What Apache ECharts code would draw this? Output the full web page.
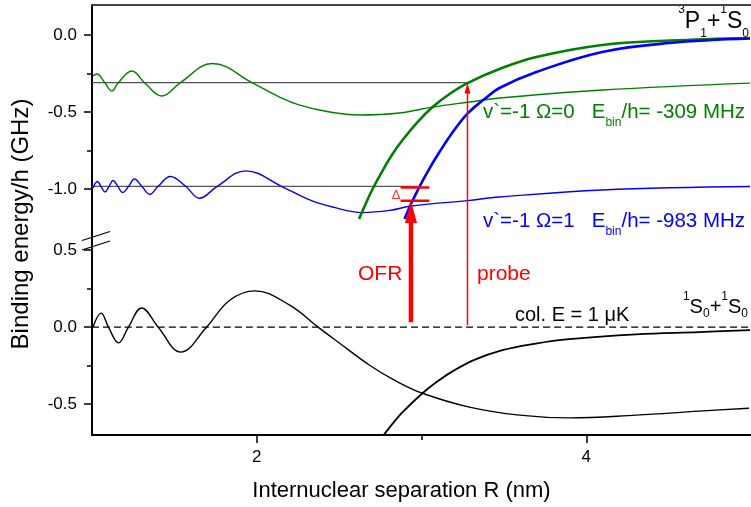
<!DOCTYPE html>
<html>
<head>
<meta charset="utf-8">
<script src="https://cdn.jsdelivr.net/npm/echarts@6/dist/echarts.min.js"></script>
<style>
html, body { margin: 0; padding: 0; background: #fff; }
#chart { width: 751px; height: 507px; }
</style>
</head>
<body>
<div id="chart"></div>
<script>
// axis ranges and ticks (broken y axis: upper = excited state, lower = ground state)
var xRange = [1, 5];
var upperRange = [-1.344, 0.195];
var lowerRange = [-0.70, 0.553];
var xMajorTicks = [2, 4];
var xMinorTicks = [3];
var upperMajorTicks = [-1.0, -0.5, 0.0];
var upperMinorTicks = [-0.75, -0.25];
var lowerMajorTicks = [-0.5, 0.0, 0.5];
var lowerMinorTicks = [-0.25, 0.25];

// upper panel: 3P1+1S0 bound states
var greenWave = [[1.006,-0.266],[1.030,-0.253],[1.079,-0.312],[1.121,-0.364],[1.158,-0.312],[1.242,-0.234],
	[1.321,-0.312],[1.424,-0.396],[1.533,-0.312],[1.730,-0.185],[1.976,-0.312],[2.139,-0.403],[2.261,-0.455],
	[2.442,-0.500],[2.624,-0.519],[2.867,-0.506],[3.067,-0.468],[3.291,-0.435],[3.473,-0.409],[4.097,-0.357],[4.994,-0.312]];
var blueWave = [[1.006,-0.994],[1.033,-0.951],[1.055,-0.984],[1.079,-1.019],[1.103,-0.984],[1.127,-0.945],
	[1.158,-0.984],[1.185,-1.023],[1.221,-0.984],[1.258,-0.935],[1.303,-0.984],[1.352,-1.034],[1.400,-0.984],
	[1.476,-0.919],[1.570,-0.984],[1.652,-1.060],[1.758,-0.984],[1.933,-0.882],[2.158,-0.987],[2.321,-1.071],
	[2.461,-1.117],[2.642,-1.153],[2.806,-1.139],[2.939,-1.110],[3.279,-1.075],[3.473,-1.052],[4.097,-1.006],[4.994,-0.984]];
var greenPot = [[2.621,-1.195],[2.655,-1.110],[2.703,-1.000],[2.764,-0.880],[2.824,-0.773],[2.885,-0.682],
	[2.976,-0.565],[3.067,-0.468],[3.170,-0.383],[3.279,-0.312],[3.473,-0.221],[3.697,-0.143],[4.097,-0.065],[4.503,-0.036],[4.994,-0.019]];
var bluePot = [[2.897,-1.195],[2.939,-1.091],[2.988,-0.984],[3.048,-0.867],[3.109,-0.760],[3.188,-0.633],
	[3.279,-0.510],[3.382,-0.416],[3.473,-0.344],[3.697,-0.240],[4.097,-0.110],[4.503,-0.052],[4.994,-0.023]];
var levelOmega0 = [[1, -0.309], [3.279, -0.309]];
var levelOmega1 = [[1, -0.983], [2.976, -0.983]];
var deltaTop = [[2.873, -0.990], [3.048, -0.990]];
var deltaBottom = [[2.873, -1.076], [3.048, -1.076]];

// lower panel: 1S0+1S0 scattering state
var groundWave = [[1.006,0],[1.055,0.091],[1.100,0],[1.161,-0.102],[1.221,0],[1.301,0.125],[1.402,0],
	[1.538,-0.162],[1.695,0],[1.836,0.175],[1.988,0.236],[2.200,0.143],[2.372,0],[2.503,-0.104],[2.685,-0.247],
	[2.836,-0.344],[3.006,-0.429],[3.291,-0.519],[3.594,-0.571],[3.897,-0.589],[4.303,-0.571],[4.685,-0.545],[4.988,-0.526]];
var groundPot = [[2.770,-0.701],[2.836,-0.612],[2.885,-0.552],[3.006,-0.429],[3.109,-0.343],[3.188,-0.287],
	[3.321,-0.212],[3.491,-0.149],[3.685,-0.108],[3.897,-0.078],[4.303,-0.047],[4.685,-0.032],[4.994,-0.019]];
var collisionLine = [[1, 0], [5, 0]];

// arrows: [x, start (lower panel), tip (upper panel)]
var ofrArrow = [2.936, 0.032, -1.078];
var probeArrow = [3.279, 0.013, -0.309];

var GREEN = '#008000', BLUE = '#0000ff', RED = '#ff0000';
var FONT = 'Liberation Sans, Arial, sans-serif';

function lineSeries(data, upper, color, width, type){
	return {
		type: 'line', data: data, xAxisIndex: upper ? 0 : 1, yAxisIndex: upper ? 0 : 2,
		showSymbol: false, smooth: 0.4, silent: true,
		lineStyle: {color: color, width: width, type: type || 'solid'}
	};
}
// upper part of an arrow, from grid bottom to the tip, with head
function arrowHead(arr, color, shaftW, headL, headW){
	return {
		type: 'custom', xAxisIndex: 0, yAxisIndex: 0, silent: true, z: 10,
		data: [[arr[0], arr[2], upperRange[0]]],
		renderItem: function(params, api){
			var tip = api.coord([api.value(0), api.value(1)]);
			var base = api.coord([api.value(0), api.value(2)]);
			return {type: 'group', children: [
				{type: 'line', shape: {x1: base[0], y1: base[1], x2: tip[0], y2: tip[1] + headL - 2},
					style: {stroke: color, lineWidth: shaftW}},
				{type: 'polygon', shape: {points: [[tip[0], tip[1]], [tip[0] - headW/2, tip[1] + headL], [tip[0] + headW/2, tip[1] + headL]]},
					style: {fill: color}}
			]};
		}
	};
}
function arrowTail(arr, color, shaftW){
	var s = lineSeries([[arr[0], arr[1]], [arr[0], lowerRange[1]]], false, color, shaftW);
	s.smooth = false; s.z = 10;
	return s;
}
function fmt(v){ return v.toFixed(1); }

function yAxisDef(grid, range, ticks, major){
	return {
		type: 'value', gridIndex: grid, position: 'left', min: range[0], max: range[1],
		axisLine: {show: major, onZero: false, lineStyle: {color: '#000', width: 2}},
		axisTick: {show: true, length: major ? 8 : 5, customValues: ticks, lineStyle: {color: '#000', width: 1.5}},
		axisLabel: major ? {customValues: ticks, formatter: fmt, fontSize: 17, fontFamily: FONT, color: '#000', margin: 15} : {show: false},
		splitLine: {show: false}
	};
}
// rich text styles for sub/superscripts (padding moves the small glyphs inside the 40px line)
function richLabel(color, size, supPad, subPad){
	return {
		m: {fontSize: size, fontFamily: FONT, fill: color, lineHeight: 40},
		sup: {fontSize: 12, fontFamily: FONT, fill: color, verticalAlign: 'top', padding: [supPad, 0, 0, 0]},
		sub: {fontSize: 12, fontFamily: FONT, fill: color, verticalAlign: 'bottom', padding: [0, 0, subPad, 0]}
	};
}

var chart = echarts.init(document.getElementById('chart'));
chart.setOption({
	animation: false,
	backgroundColor: '#fff',
	grid: [
		{left: 92, top: 5, width: 660, height: 237},
		{left: 92, top: 242, width: 660, height: 193}
	],
	xAxis: [
		{type: 'value', gridIndex: 0, position: 'top', min: xRange[0], max: xRange[1],
			axisLine: {show: true, onZero: false, lineStyle: {color: '#444', width: 2}},
			axisTick: {show: false}, axisLabel: {show: false}, splitLine: {show: false}},
		{type: 'value', gridIndex: 1, position: 'bottom', min: xRange[0], max: xRange[1],
			axisLine: {show: true, onZero: false, lineStyle: {color: '#000', width: 2}},
			axisTick: {show: true, length: 8, customValues: xMajorTicks, lineStyle: {color: '#000', width: 1.5}},
			axisLabel: {customValues: xMajorTicks, fontSize: 17, fontFamily: FONT, color: '#000', margin: 14},
			splitLine: {show: false}},
		{type: 'value', gridIndex: 1, position: 'bottom', min: xRange[0], max: xRange[1],
			axisLine: {show: false, onZero: false},
			axisTick: {show: true, length: 5, customValues: xMinorTicks, lineStyle: {color: '#000', width: 1.5}},
			axisLabel: {show: false}, splitLine: {show: false}}
	],
	yAxis: [
		yAxisDef(0, upperRange, upperMajorTicks, true),
		yAxisDef(0, upperRange, upperMinorTicks, false),
		yAxisDef(1, lowerRange, lowerMajorTicks, true),
		yAxisDef(1, lowerRange, lowerMinorTicks, false)
	],
	series: [
		lineSeries(levelOmega0, true, '#555', 1.2),
		lineSeries(levelOmega1, true, '#555', 1.2),
		lineSeries(greenWave, true, GREEN, 1.4),
		lineSeries(blueWave, true, BLUE, 1.4),
		lineSeries(greenPot, true, GREEN, 2.6),
		lineSeries(bluePot, true, BLUE, 2.6),
		lineSeries(deltaTop, true, RED, 2.4),
		lineSeries(deltaBottom, true, RED, 2.4),
		arrowHead(ofrArrow, RED, 4.5, 22, 12),
		arrowHead(probeArrow, RED, 1.5, 11, 6),
		lineSeries(collisionLine, false, '#000', 1.3, [7, 4]),
		lineSeries(groundWave, false, '#000', 1.4),
		lineSeries(groundPot, false, '#000', 1.8),
		arrowTail(ofrArrow, RED, 4.5),
		arrowTail(probeArrow, RED, 1.5)
	],
	graphic: [
		// axis break marks
		{type: 'line', shape: {x1: 82, y1: 240.5, x2: 110, y2: 231.5}, style: {stroke: '#000', lineWidth: 1.2}},
		{type: 'line', shape: {x1: 82, y1: 250, x2: 110, y2: 241}, style: {stroke: '#000', lineWidth: 1.2}},
		{type: 'text', x: 21.7, y: 224, rotation: Math.PI / 2,
			style: {text: 'Binding energy/h (GHz)', font: '24px ' + FONT, fill: '#000', align: 'center', verticalAlign: 'middle'}},
		{type: 'text', x: 401.5, y: 490.5,
			style: {text: 'Internuclear separation R (nm)', font: '22px ' + FONT, fill: '#000', align: 'center', verticalAlign: 'middle'}},
		{type: 'text', x: 749, y: 21.3,
			style: {text: '{sup|3}{m|P}{sub|1}{m|+}{sup|1}{m|S}{sub|0}', align: 'right', verticalAlign: 'middle',
				rich: richLabel('#000', 23, 2.7, 1.3)}},
		{type: 'text', x: 748, y: 307.4,
			style: {text: '{sup|1}{m|S}{sub|0}{m|+}{sup|1}{m|S}{sub|0}', align: 'right', verticalAlign: 'middle',
				rich: richLabel('#000', 20, 3.3, 8.2)}},
		{type: 'text', x: 483, y: 112.4,
			style: {text: '{m|v`=-1 Ω=0   E}{sub|bin}{m|/h= -309 MHz}', align: 'left', verticalAlign: 'middle',
				rich: richLabel(GREEN, 20.5, 0, 3.3)}},
		{type: 'text', x: 483, y: 221.4,
			style: {text: '{m|v`=-1 Ω=1   E}{sub|bin}{m|/h= -983 MHz}', align: 'left', verticalAlign: 'middle',
				rich: richLabel(BLUE, 20.5, 0, 3.3)}},
		{type: 'text', x: 358, y: 274.4,
			style: {text: 'OFR', font: '21px ' + FONT, fill: RED, align: 'left', verticalAlign: 'middle'}},
		{type: 'text', x: 477, y: 273.8,
			style: {text: 'probe', font: '21px ' + FONT, fill: RED, align: 'left', verticalAlign: 'middle'}},
		{type: 'text', x: 515, y: 315,
			style: {text: 'col. E = 1 μK', font: '20px ' + FONT, fill: '#000', align: 'left', verticalAlign: 'middle'}},
		{type: 'text', x: 396, y: 195.5,
			style: {text: 'Δ', font: '13px ' + FONT, fill: '#ff3030', align: 'center', verticalAlign: 'middle'}}
	]
});
</script>
</body>
</html>
